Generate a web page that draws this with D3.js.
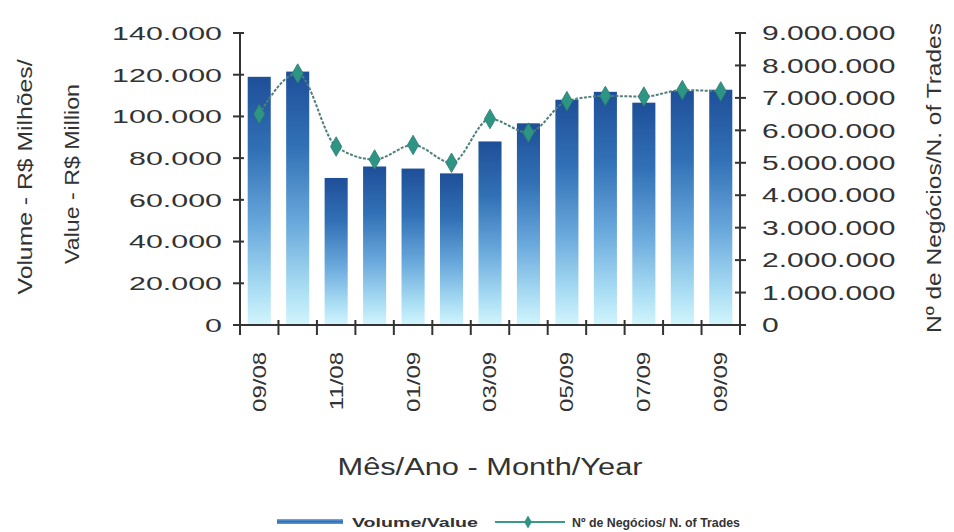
<!DOCTYPE html>
<html><head><meta charset="utf-8">
<script src="https://cdn.jsdelivr.net/npm/d3@7"></script>
<style>body{margin:0;background:#fff}svg{display:block}text{font-family:Arial,"Liberation Sans",sans-serif;fill:#333}</style>
</head><body>
<svg id="c" width="954" height="532"></svg>
<script>
const months = ["09/08","10/08","11/08","12/08","01/09","02/09","03/09","04/09","05/09","06/09","07/09","08/09","09/09"];
const volume = [119000,121500,70500,76000,75000,72700,88000,96700,108000,111800,106600,112200,112800];
const trades = [6500000,7750000,5500000,5100000,5550000,5000000,6350000,5930000,6900000,7060000,7040000,7240000,7200000];
const leftTicks = [0,20000,40000,60000,80000,100000,120000,140000];
const rightTicks = [0,1000000,2000000,3000000,4000000,5000000,6000000,7000000,8000000,9000000];
const labelMonths = ["09/08","11/08","01/09","03/09","05/09","07/09","09/09"];

const svg = d3.select("#c");
const L=240, R=740, T=33, B=325;
const x = d3.scaleBand().domain(months).range([L,R]).paddingInner(0.4).paddingOuter(0.2);
const yL = d3.scaleLinear().domain([0,140000]).range([B,T]);
const yR = d3.scaleLinear().domain([0,9000000]).range([B,T]);
const fmt = v => d3.format(",")(v).replace(/,/g,".");

function stretch(sel,k){ sel.each(function(){ const n=this.getComputedTextLength(); d3.select(this).attr("textLength",n*k).attr("lengthAdjust","spacingAndGlyphs"); }); }

const defs = svg.append("defs");
const g = defs.append("linearGradient").attr("id","bar").attr("x1",0).attr("y1",0).attr("x2",0).attr("y2",1);
[[0,"#1e4f98"],[0.3,"#3271b6"],[0.6,"#6aa9dc"],[0.85,"#a8dcf3"],[1,"#d2f5fd"]].forEach(s=>g.append("stop").attr("offset",s[0]).attr("stop-color",s[1]));
const gl = defs.append("linearGradient").attr("id","leg").attr("x1",0).attr("y1",0).attr("x2",0).attr("y2",1);
[[0,"#7fb0e0"],[0.5,"#2f6fba"],[1,"#5f9ad6"]].forEach(s=>gl.append("stop").attr("offset",s[0]).attr("stop-color",s[1]));

// bars
svg.append("g").selectAll("rect").data(months).join("rect")
  .attr("x",d=>x(d)).attr("width",x.bandwidth())
  .attr("y",(d,i)=>yL(volume[i])).attr("height",(d,i)=>B-yL(volume[i]))
  .attr("fill","url(#bar)");

// line
const cx = d=>x(d)+x.bandwidth()/2;
svg.append("path").datum(months)
  .attr("d",d3.line().x(d=>cx(d)).y((d,i)=>yR(trades[i])).curve(d3.curveMonotoneX))
  .attr("fill","none").attr("stroke","#4f7f7c").attr("stroke-width",2).attr("stroke-dasharray","3,1.5");
const sym = d3.symbol().type(d3.symbolDiamond).size(110);
svg.append("g").selectAll("path").data(months).join("path")
  .attr("transform",(d,i)=>`translate(${cx(d)},${yR(trades[i])})`)
  .attr("d",sym).attr("fill","#2e9584").attr("stroke","#2a7a70").attr("stroke-width",0.8);

// axes
const ax = svg.append("g").attr("stroke","#333").attr("stroke-width",2);
ax.append("line").attr("x1",L).attr("x2",L).attr("y1",T).attr("y2",B+10);
ax.append("line").attr("x1",R).attr("x2",R).attr("y1",T).attr("y2",B+10);
ax.append("line").attr("x1",L).attr("x2",R).attr("y1",B).attr("y2",B);
ax.selectAll(".tl").data(leftTicks).join("line").attr("x1",L-7).attr("x2",L+4).attr("y1",d=>yL(d)).attr("y2",d=>yL(d));
ax.selectAll(".tr").data(rightTicks).join("line").attr("class","tr").attr("x1",R-5).attr("x2",R+6).attr("y1",d=>yR(d)).attr("y2",d=>yR(d));
const bounds = months.map(m=>x(m)-x.step()*x.paddingInner()/2).concat([R]);
bounds[0]=L;
ax.selectAll(".tb").data(bounds).join("line").attr("class","tb").attr("x1",d=>d).attr("x2",d=>d).attr("y1",B-5).attr("y2",B+10);

const lt = svg.append("g").selectAll("text").data(leftTicks).join("text")
  .attr("x",222).attr("y",d=>yL(d)).attr("dy","0.36em").attr("text-anchor","end")
  .attr("font-size",19).text(d=>fmt(d));
stretch(lt,1.6);
const rt = svg.append("g").selectAll("text").data(rightTicks).join("text")
  .attr("x",762).attr("y",d=>yR(d)).attr("dy","0.36em").attr("text-anchor","start")
  .attr("font-size",20).text(d=>fmt(d));
stretch(rt,1.5);
const xt = svg.append("g").selectAll("text").data(labelMonths).join("text")
  .attr("transform",d=>`translate(${cx(d)},352) rotate(-90)`).attr("dy","0.36em").attr("text-anchor","end")
  .attr("font-size",18).text(d=>d);
stretch(xt,1.33);

// titles
function title(txt,xp,yp,rot,len,fs){
  const t = svg.append("text").attr("transform",`translate(${xp},${yp})`+(rot?" rotate(-90)":""))
   .attr("text-anchor","middle").attr("font-size",fs).text(txt);
  t.attr("textLength",len).attr("lengthAdjust","spacingAndGlyphs");
  return t;
}
title("Volume - R$ Milhões/",32,177,true,235,20);
title("Value - R$ Million",79,174,true,180,20);
title("Nº de Negócios/N. of Trades",941,178,true,310,20);
title("Mês/Ano - Month/Year",490,475,false,305,23);

// legend
const lg = svg.append("g");
lg.append("rect").attr("x",277).attr("y",519).attr("width",66).attr("height",5).attr("fill","url(#leg)");
lg.append("text").attr("x",352).attr("y",527).attr("font-size",13).attr("font-weight","bold").attr("fill","#222")
  .attr("textLength",126).attr("lengthAdjust","spacingAndGlyphs").text("Volume/Value");
lg.append("line").attr("x1",495).attr("x2",565).attr("y1",522).attr("y2",522).attr("stroke","#3a9a8a").attr("stroke-width",2);
lg.append("path").attr("transform","translate(528,522)").attr("d",d3.symbol().type(d3.symbolDiamond).size(50)).attr("fill","#2e9584");
lg.append("text").attr("x",572).attr("y",527).attr("font-size",13).attr("font-weight","bold").attr("fill","#222")
  .attr("textLength",168).attr("lengthAdjust","spacingAndGlyphs").text("Nº de Negócios/ N. of Trades");
</script>
</body></html>
